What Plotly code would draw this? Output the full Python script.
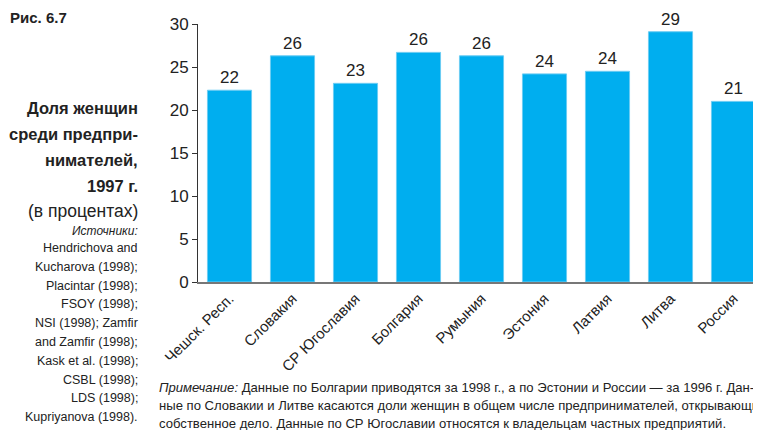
import plotly.graph_objects as go

# данные
countries = ["Чешск. Респ.", "Словакия", "СР Югославия", "Болгария", "Румыния",
             "Эстония", "Латвия", "Литва", "Россия"]
shares = [22.3, 26.3, 23.1, 26.7, 26.3, 24.2, 24.5, 29.1, 21.0]
labels = ["22", "26", "23", "26", "26", "24", "24", "29", "21"]
y_ticks = [0, 5, 10, 15, 20, 25, 30]

sources = ["Hendrichova and", "Kucharova (1998);", "Placintar (1998);", "FSOY (1998);",
           "NSI (1998); Zamfir", "and Zamfir (1998);", "Kask et al. (1998);",
           "CSBL (1998);", "LDS (1998);", "Kupriyanova (1998)."]

note_lines = [
    "<i>Примечание:</i> Данные по Болгарии приводятся за 1998 г., а по Эстонии и России — за 1996 г. Дан-",
    "ные по Словакии и Литве касаются доли женщин в общем числе предпринимателей, открывающих",
    "собственное дело. Данные по СР Югославии относятся к владельцам частных предприятий.",
]

# страница имеет отступ 8px, поэтому фигура чуть меньше окна
OFF = 8
W, H = 761 - OFF, 430 - OFF
L, R, T, B = 198 - OFF, 0, 24 - OFF, 430 - 282
pw, ph = W - L - R, H - T - B

BASE = "Liberation Sans, Arial, sans-serif"


def px_x(x):
    # координата в пикселях эталона -> доля области графика
    return (x - OFF - L) / pw


def px_y(y):
    return (H - B - (y - OFF)) / ph


fig = go.Figure()

fig.add_trace(go.Bar(
    x=countries,
    y=shares,
    text=labels,
    textposition="outside",
    textfont=dict(size=17, color="#222", family=BASE),
    cliponaxis=False,
    marker=dict(color="#00AEEF", line=dict(color="#6cccf3", width=1)),
    hoverinfo="skip",
))

fig.update_layout(
    width=W, height=H,
    margin=dict(l=L, r=R, t=T, b=B),
    paper_bgcolor="white",
    plot_bgcolor="white",
    showlegend=False,
    bargap=0.3,
    font=dict(family=BASE, color="#222"),
    xaxis=dict(
        range=[-0.5, 8.5 - 4 / 63],
        tickangle=-45,
        tickfont=dict(size=15, family=BASE, color="#222"),
        showline=True, linecolor="#777", linewidth=2,
        ticks="", showgrid=False,
    ),
    yaxis=dict(
        range=[0, 30],
        tickvals=y_ticks,
        tickfont=dict(size=17, family=BASE, color="#222"),
        showline=True, linecolor="#333", linewidth=1,
        ticks="outside", ticklen=5, tickcolor="#333",
        showgrid=False, zeroline=False,
    ),
)

ann = []
ann.append(dict(text="<b>Рис. 6.7</b>", x=px_x(8), y=px_y(18), xanchor="left", yanchor="middle",
                font=dict(size=15, family=BASE, color="#222")))

title_lines = ["Доля женщин", "среди предпри-", "нимателей,", "1997 г."]
title_y = [108, 134, 160, 186]
for t, yy in zip(title_lines, title_y):
    ann.append(dict(text="<b>" + t + "</b>", x=px_x(140), y=px_y(yy), xanchor="right", yanchor="middle",
                    font=dict(size=16.5, family=BASE, color="#222")))

ann.append(dict(text="(в процентах)", x=px_x(140), y=px_y(211), xanchor="right", yanchor="middle",
                font=dict(size=17.5, family=BASE, color="#222")))
ann.append(dict(text="<i>Источники:</i>", x=px_x(140), y=px_y(231), xanchor="right", yanchor="middle",
                font=dict(size=12, family=BASE, color="#222")))
for i, s in enumerate(sources):
    ann.append(dict(text=s, x=px_x(140), y=px_y(248 + i * 18.8), xanchor="right", yanchor="middle",
                    font=dict(size=12.5, family=BASE, color="#222")))

for i, s in enumerate(note_lines):
    ann.append(dict(text=s, x=px_x(157), y=px_y(387 + i * 18), xanchor="left", yanchor="middle",
                    font=dict(size=13.1, family=BASE, color="#222")))

for a in ann:
    a.update(xref="paper", yref="paper", showarrow=False, align="left")
fig.update_layout(annotations=ann)

fig.write_html("out.html")
